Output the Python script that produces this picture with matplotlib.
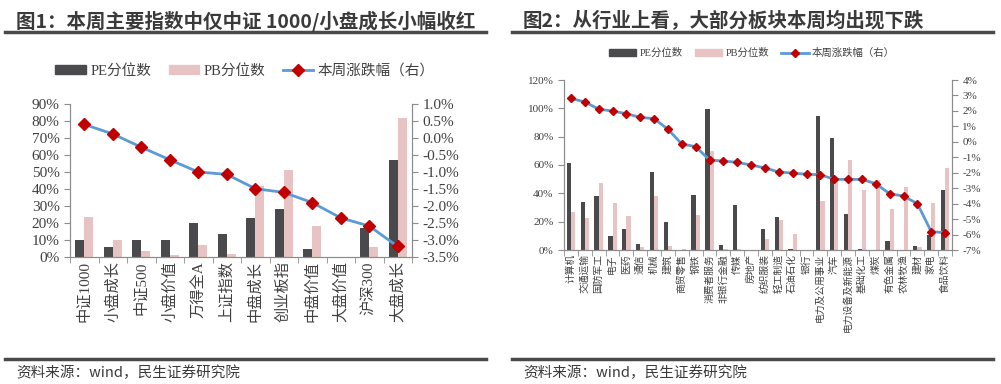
import numpy as np
import matplotlib.pyplot as plt
import matplotlib as mpl
from matplotlib.patches import Patch
from matplotlib.lines import Line2D
from matplotlib.ticker import FuncFormatter, FixedLocator

# ---- style ----
mpl.rcParams.update({
    'font.family': ['Liberation Serif', 'Noto Sans CJK SC'],
    'axes.unicode_minus': False,
    'axes.edgecolor': '#8c8c8c',
    'xtick.color': '#8c8c8c',
    'ytick.color': '#8c8c8c',
    'xtick.labelcolor': '#404040',
    'ytick.labelcolor': '#404040',
})

C_PE = '#4a4a4c'
C_PB = '#e8c3c3'
C_LINE = '#5b9bd5'
C_MK = '#c00000'
C_TXT = '#3a3a3a'
SANS = ['Noto Sans CJK SC', 'DejaVu Sans']

# ---- data: chart 1 ----
idx_names = ['中证1000', '小盘成长', '中证500', '小盘价值', '万得全A', '上证指数',
             '中盘成长', '创业板指', '中盘价值', '大盘价值', '沪深300', '大盘成长']
idx_pe = [10.2, 6.0, 10.2, 10.2, 20.2, 13.7, 23.0, 28.5, 5.0, 0.0, 16.8, 57.0]
idx_pb = [23.6, 10.2, 3.7, 1.0, 6.8, 2.0, 42.0, 51.0, 18.0, 0.0, 5.7, 82.0]
idx_chg = [0.40, 0.12, -0.27, -0.64, -1.00, -1.07, -1.49, -1.60, -1.90, -2.35, -2.59, -3.19]

# ---- data: chart 2 ----
ind_names = ['计算机', '交通运输', '国防军工', '电子', '医药', '通信', '机械', '建筑',
             '商贸零售', '钢铁', '消费者服务', '非银行金融', '传媒', '房地产', '纺织服装',
             '轻工制造', '石油石化', '银行', '电力及公用事业', '汽车', '电力设备及新能源',
             '基础化工', '煤炭', '有色金属', '农林牧渔', '建材', '家电', '食品饮料']
ind_pe = [61.4, 33.9, 38.1, 9.9, 14.8, 4.2, 55.0, 19.8, 0.0, 38.8, 99.5, 3.5, 31.8, 0.0,
          14.8, 23.3, 0.7, 0.0, 94.6, 79.0, 25.4, 0.7, 0.0, 6.4, 0.0, 2.8, 10.6, 42.4]
ind_pb = [26.8, 22.6, 47.3, 33.2, 24.0, 2.1, 38.1, 2.8, 0.7, 24.7, 69.9, 0.7, 0.7, 0.0,
          7.8, 21.2, 11.3, 0.0, 34.6, 49.4, 63.5, 42.4, 49.4, 28.9, 44.5, 2.1, 33.2, 57.9]
ind_chg = [2.81, 2.58, 2.12, 1.99, 1.82, 1.58, 1.50, 0.81, -0.14, -0.31, -1.18, -1.24,
           -1.33, -1.50, -1.69, -1.95, -2.02, -2.10, -2.13, -2.43, -2.43, -2.43, -2.71,
           -3.36, -3.51, -4.00, -5.81, -5.88]

W, H = 1001, 384
fig = plt.figure(figsize=(W / 100, H / 100), dpi=100)


def box(x0, y_top, x1, y_bot):
    return [x0 / W, 1 - y_bot / H, (x1 - x0) / W, (y_bot - y_top) / H]


def hline(x0, x1, y, lw):
    fig.add_artist(Line2D([x0 / W, x1 / W], [1 - y / H, 1 - y / H],
                          color='#4a4a4a', lw=lw, transform=fig.transFigure))


def panel(rect, names, pe, pb, chg, ylim, yticks, rlim, rticks, rfmt,
          lab_fs, tick_fs, bw):
    ax = fig.add_axes(rect)
    x = np.arange(len(names))
    ax.bar(x - bw / 2, pe, bw, color=C_PE, zorder=2)
    ax.bar(x + bw / 2, pb, bw, color=C_PB, zorder=2)
    ax.set_xlim(-0.5, len(names) - 0.5)
    ax.set_ylim(*ylim)
    ax.set_yticks(yticks)
    ax.yaxis.set_major_formatter(FuncFormatter(lambda v, p: f'{v:.0f}%'))
    ax.set_xticks(x)
    ax.set_xticklabels(names, rotation=90, fontsize=lab_fs, va='top')
    ax.xaxis.set_minor_locator(FixedLocator(np.arange(len(names) + 1) - 0.5))
    ax.tick_params(axis='x', which='major', length=0, pad=3)
    ax.tick_params(axis='x', which='minor', length=4, direction='out')
    ax.tick_params(axis='y', length=4, labelsize=tick_fs)
    ax.spines['top'].set_visible(False)

    ax2 = ax.twinx()
    ax2.plot(x, chg, color=C_LINE, lw=2, marker='D', ms=6 if lab_fs > 9 else 4.5,
             mfc=C_MK, mec=C_MK, zorder=3)
    ax2.set_ylim(*rlim)
    ax2.set_yticks(rticks)
    ax2.yaxis.set_major_formatter(FuncFormatter(rfmt))
    ax2.tick_params(axis='y', length=4, labelsize=tick_fs)
    ax2.spines['top'].set_visible(False)
    return ax, ax2


# ---- chart 1 ----
panel(box(70, 104, 412, 257), idx_names, idx_pe, idx_pb, idx_chg,
      (0, 90), np.arange(0, 91, 10), (-3.5, 1.0), np.arange(-3.5, 1.01, 0.5),
      lambda v, p: f'{v:.1f}%', 11, 11, 0.32)

# ---- chart 2 ----
panel(box(564, 80, 952, 250), ind_names, ind_pe, ind_pb, ind_chg,
      (0, 120), np.arange(0, 121, 20), (-7, 4), np.arange(-7, 4.1, 1),
      lambda v, p: f'{v:.0f}%', 7, 8, 0.3)


def legend(cx, cy, fs, hl):
    handles = [Patch(color=C_PE), Patch(color=C_PB),
               Line2D([], [], color=C_LINE, lw=2, marker='D', ms=fs * 0.55,
                      mfc=C_MK, mec=C_MK)]
    fig.legend(handles, ['PE分位数', 'PB分位数', '本周涨跌幅（右）'], loc='center',
               bbox_to_anchor=(cx / W, 1 - cy / H), ncol=3, frameon=False,
               fontsize=fs, handlelength=hl, handleheight=0.55, columnspacing=1.2,
               handletextpad=0.3, labelcolor='#404040')


legend(245, 71, 10.5, 2.1)
legend(752, 53, 7.5, 2.6)

# ---- titles, rules, source ----
fig.text(16 / W, 1 - 21 / H, '图1：本周主要指数中仅中证 1000/小盘成长小幅收红',
         fontsize=14, fontweight='bold', color=C_TXT, family=SANS, va='center')
fig.text(523 / W, 1 - 21 / H, '图2：从行业上看，大部分板块本周均出现下跌',
         fontsize=14, fontweight='bold', color=C_TXT, family=SANS, va='center')
hline(5, 486, 31.5, 2.5)
hline(512, 993, 31.5, 2.5)
hline(5, 486, 359, 2.5)
hline(512, 993, 359, 2.5)
fig.text(16 / W, 1 - 373 / H, '资料来源：wind，民生证券研究院', fontsize=10.5,
         color=C_TXT, family=SANS, va='center')
fig.text(523 / W, 1 - 373 / H, '资料来源：wind，民生证券研究院', fontsize=10.5,
         color=C_TXT, family=SANS, va='center')

fig.savefig('out.png', dpi=100)
